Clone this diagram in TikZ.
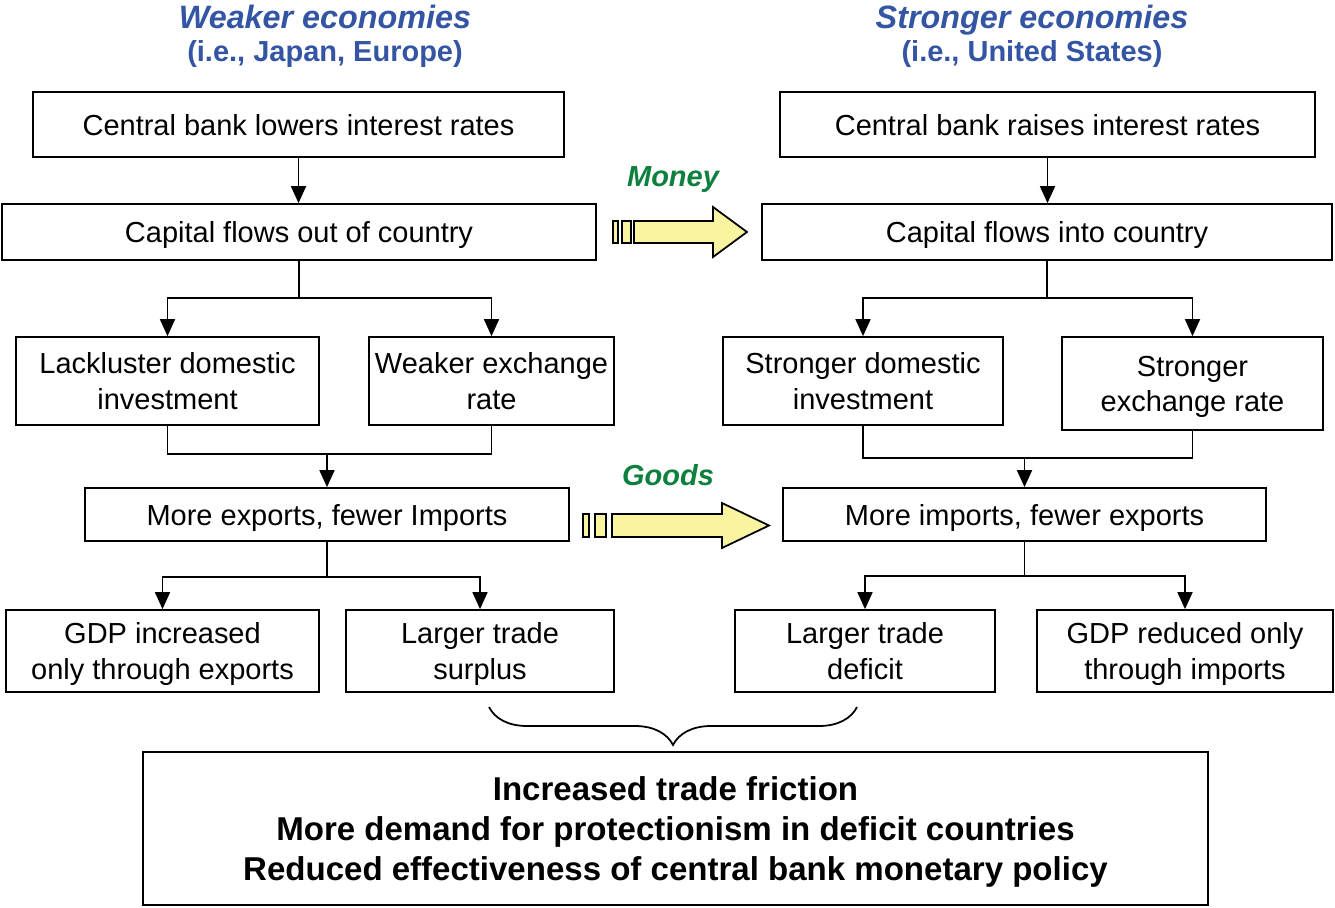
\documentclass[tikz,border=0pt]{standalone}
\usepackage{fontspec}
\setmainfont{Liberation Sans}
\usetikzlibrary{arrows.meta,decorations.pathreplacing}

\definecolor{titleblue}{RGB}{52,84,164}
\definecolor{flowgreen}{RGB}{14,128,62}
\definecolor{arrowyellow}{RGB}{248,244,160}

\begin{document}
\begin{tikzpicture}[
        x=0.02cm, y=-0.02cm,
        >={Triangle[length=0.34cm,width=0.30cm]},
        box/.style={rectangle, draw, line width=1pt, align=center, inner sep=1pt, text depth=0pt, font=\fontsize{16.5}{20}\selectfont},
        twoline/.style={box, execute at begin node={\rule{0pt}{15pt}}},
        titletext/.style={anchor=base, text=titleblue, font=\fontsize{18.4}{22}\selectfont\bfseries\itshape},
        subtitle/.style={anchor=base, text=titleblue, font=\fontsize{16.5}{20}\selectfont\bfseries},
        flowlabel/.style={anchor=base, text=flowgreen, font=\fontsize{16.5}{20}\selectfont\bfseries\itshape},
        bigarrow/.style={draw, line width=1pt, fill=arrowyellow},
        link/.style={line width=1pt}
    ]
        \useasboundingbox (0,0) rectangle (1335,907);

        % Headings
        \node[titletext] (wtitle) at (325,28) {Weaker economies};
        \node[subtitle] (wsub) at (325,61) {(i.e., Japan, Europe)};
        \node[titletext] (stitle) at (1032,28) {Stronger economies};
        \node[subtitle] (ssub) at (1032,61) {(i.e., United States)};

        % Weaker side
        \node[box, minimum width=10.62cm, minimum height=1.30cm] (wbank) at (298.5,124.5) {Central bank lowers interest rates};
        \node[box, minimum width=11.88cm, minimum height=1.12cm] (wcap) at (299,232) {Capital flows out of country};
        \node[twoline, minimum width=6.06cm, minimum height=1.76cm] (winv) at (167.5,381) {Lackluster domestic\\investment};
        \node[twoline, minimum width=4.90cm, minimum height=1.76cm] (wfx) at (491.5,381) {Weaker exchange\\rate};
        \node[box, minimum width=9.68cm, minimum height=1.06cm] (wtrade) at (327,514.5) {More exports, fewer Imports};
        \node[twoline, minimum width=6.26cm, minimum height=1.64cm] (wgdp) at (162.5,651) {GDP increased\\only through exports};
        \node[twoline, minimum width=5.36cm, minimum height=1.64cm] (wsurplus) at (480,651) {Larger trade\\surplus};

        % Stronger side
        \node[box, minimum width=10.70cm, minimum height=1.30cm] (sbank) at (1047.5,124.5) {Central bank raises interest rates};
        \node[box, minimum width=11.40cm, minimum height=1.12cm] (scap) at (1047,232) {Capital flows into country};
        \node[twoline, minimum width=5.60cm, minimum height=1.76cm] (sinv) at (863,381) {Stronger domestic\\investment};
        \node[twoline, minimum width=5.22cm, minimum height=1.86cm] (sfx) at (1192.5,383.5) {Stronger\\exchange rate};
        \node[box, minimum width=9.66cm, minimum height=1.06cm] (strade) at (1024.5,514.5) {More imports, fewer exports};
        \node[twoline, minimum width=5.20cm, minimum height=1.64cm] (sdeficit) at (865,651) {Larger trade\\deficit};
        \node[twoline, minimum width=5.92cm, minimum height=1.64cm] (sgdp) at (1185,651) {GDP reduced only\\through imports};

        % Result
        \node[box, minimum width=21.30cm, minimum height=3.06cm, execute at begin node={\rule{0pt}{18.2pt}}, font=\fontsize{18.8}{22.7}\selectfont\bfseries] (result) at (675.5,828.5)
            {Increased trade friction\\More demand for protectionism in deficit countries\\Reduced effectiveness of central bank monetary policy};

        % Connectors, weaker side
        \draw[link, ->] (wbank.south) -- (wbank.south |- wcap.north);
        \path (wcap.south) ++(0,37) coordinate (wcapj);
        \draw[link] (wcap.south) -- (wcapj);
        \draw[link, ->] (wcapj) -| (winv.north);
        \draw[link, ->] (wcapj) -| (wfx.north);
        \path (winv.south) ++(0,28) coordinate (winvj);
        \draw[link] (winv.south) -- (winvj) -| (wfx.south);
        \draw[link, ->] (winvj -| wtrade.north) -- (wtrade.north);
        \path (wtrade.south) ++(0,35) coordinate (wtradej);
        \draw[link] (wtrade.south) -- (wtradej);
        \draw[link, ->] (wtradej) -| (wgdp.north);
        \draw[link, ->] (wtradej) -| (wsurplus.north);

        % Connectors, stronger side
        \draw[link, ->] (sbank.south) -- (sbank.south |- scap.north);
        \path (scap.south) ++(0,37) coordinate (scapj);
        \draw[link] (scap.south) -- (scapj);
        \draw[link, ->] (scapj) -| (sinv.north);
        \draw[link, ->] (scapj) -| (sfx.north);
        \path (sinv.south) ++(0,32) coordinate (sinvj);
        \draw[link] (sinv.south) -- (sinvj) -| (sfx.south);
        \draw[link, ->] (sinvj -| strade.north) -- (strade.north);
        \path (strade.south) ++(0,34) coordinate (stradej);
        \draw[link] (strade.south) -- (stradej);
        \draw[link, ->] (stradej) -| (sdeficit.north);
        \draw[link, ->] (stradej) -| (sgdp.north);

        % Money arrow
        \node[flowlabel] (money) at (673,186) {Money};
        \draw[bigarrow] (613,221) rectangle (618,243);
        \draw[bigarrow] (622,221) rectangle (631,243);
        \draw[bigarrow] (634,221) -- (713,221) -- (713,207) -- (747,232) -- (713,257) -- (713,243) -- (634,243) -- cycle;

        % Goods arrow
        \node[flowlabel] (goods) at (668,485) {Goods};
        \draw[bigarrow] (583,514) rectangle (589,537);
        \draw[bigarrow] (595,514) rectangle (606,537);
        \draw[bigarrow] (612,514) -- (722,514) -- (722,503) -- (769,525.5) -- (722,548) -- (722,537) -- (612,537) -- cycle;

        % Brace
        \draw[link, decorate, decoration={brace, mirror, amplitude=0.76cm}] (489,707) -- (857,707);

    \end{tikzpicture}
\end{document}
